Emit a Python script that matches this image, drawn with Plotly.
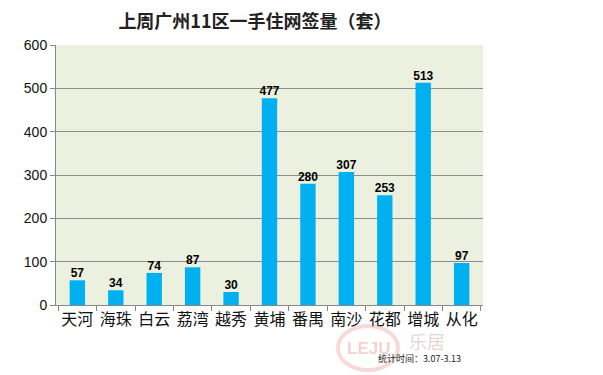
import plotly.graph_objects as go

categories = ["天河", "海珠", "白云", "荔湾", "越秀", "黄埔", "番禺", "南沙", "花都", "增城", "从化"]
values = [57, 34, 74, 87, 30, 477, 280, 307, 253, 513, 97]
y_ticks = [0, 100, 200, 300, 400, 500, 600]

font_cjk = "Noto Sans CJK SC, Microsoft YaHei, sans-serif"

OFF = 8  # browser default body margin
L, R, T, B = 56 - OFF, 483 - OFF, 45 - OFF, 305 - OFF
W, H = 603, 375


def px(x):
    return (x - OFF - L) / (R - L)


def py(y):
    return (B - (y - OFF)) / (B - T)


fig = go.Figure()
fig.add_trace(go.Bar(
    x=categories, y=values,
    marker=dict(color="#00B0F0", line=dict(width=0)),
    width=0.4, hoverinfo="x+y",
))
fig.add_trace(go.Scatter(
    x=categories, y=values, mode="text",
    text=["<b>%d</b>" % v for v in values], textposition="top center",
    textfont=dict(family="Liberation Sans, Arial", size=12, color="#000000"),
    cliponaxis=False, hoverinfo="skip",
))

fig.update_layout(
    width=W, height=H,
    margin=dict(l=L, r=W - R, t=T, b=H - B, autoexpand=False),
    paper_bgcolor="white",
    plot_bgcolor="#EBF1DE",
    showlegend=False,
    title=dict(text="<b>上周广州11区一手住网签量（套）</b>", x=(255 - OFF) / W, xanchor="center",
               y=1 - (22 - OFF) / H, yanchor="middle",
               font=dict(family=font_cjk, size=18, color="#222222")),
    xaxis=dict(
        tickfont=dict(family=font_cjk, size=16, color="#111111"),
        tickangle=0, automargin=False,
        showline=True, linecolor="#888888", linewidth=1,
        ticks="outside", ticklen=5, tickcolor="#888888",
        tickson="boundaries", showgrid=False,
    ),
    yaxis=dict(
        range=[0, 600], tickvals=y_ticks, automargin=False,
        tickfont=dict(family="Liberation Sans, Arial", size=14, color="#111111"),
        showgrid=True, gridcolor="#8C8C8C", gridwidth=1,
        showline=True, linecolor="#888888", linewidth=1,
        ticks="outside", ticklen=5, tickcolor="#888888",
        zeroline=False,
    ),
)

# watermark logo
fig.add_shape(type="circle", xref="paper", yref="paper",
              x0=px(338), x1=px(398), y0=py(370), y1=py(326),
              line=dict(color="rgba(225,120,120,0.28)", width=4))
fig.add_annotation(text="<b>LEJU</b>", xref="paper", yref="paper", x=px(368), y=py(348),
                   xanchor="center", yanchor="middle",
                   showarrow=False, font=dict(family="Liberation Sans, Arial", size=17, color="rgba(225,120,120,0.35)"))
fig.add_annotation(text="乐居", xref="paper", yref="paper", x=px(427), y=py(341),
                   xanchor="center", yanchor="middle",
                   showarrow=False, font=dict(family=font_cjk, size=18, color="rgba(200,160,160,0.45)"))
fig.add_annotation(text="统计时间：3.07-3.13", xref="paper", yref="paper", x=px(419), y=py(358),
                   showarrow=False, xanchor="center", yanchor="middle",
                   font=dict(family=font_cjk, size=9, color="#222222"))

fig.write_html("out.html")
